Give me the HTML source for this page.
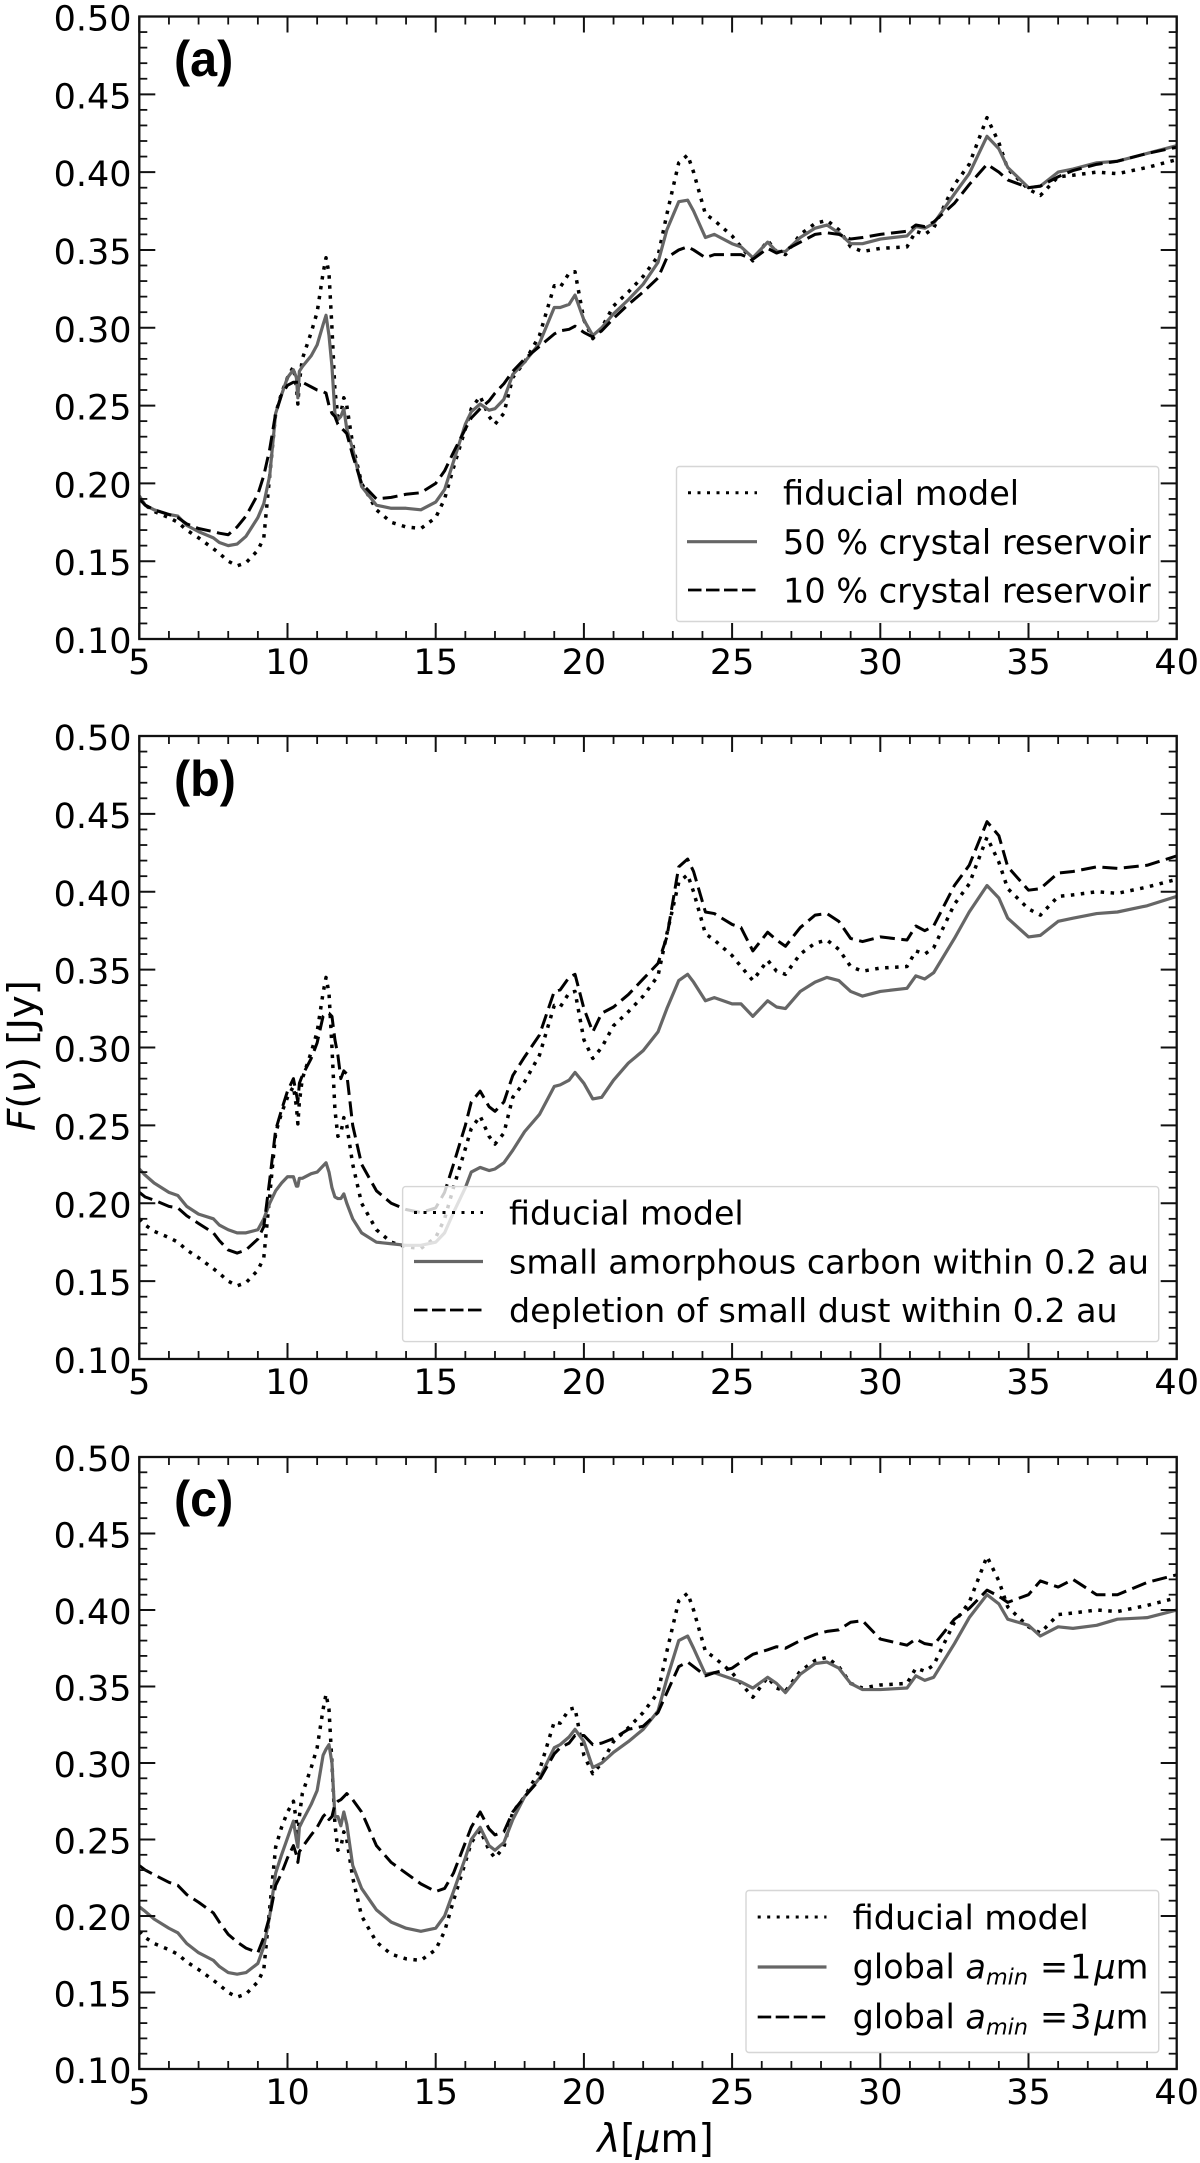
<!DOCTYPE html>
<html lang="en">
<head>
<meta charset="utf-8">
<title>Model spectra comparison</title>
<style>
  html,body{margin:0;padding:0;background:#fff;}
  svg{display:block;}
  text{font-family:"DejaVu Sans","Liberation Sans",sans-serif;fill:#000;}
  .panel-tag{font-family:"Liberation Sans",sans-serif;font-weight:bold;font-size:50px;}
  .leg-box{fill:#fff;fill-opacity:.8;stroke:#d6d6d6;stroke-width:1.4;}
  .s-dot{fill:none;stroke:#000;stroke-width:3.5;stroke-dasharray:3.5 6.5;}
  .s-sol{fill:none;stroke:#666;stroke-width:3.2;}
  .s-das{fill:none;stroke:#000;stroke-width:3;stroke-dasharray:15 6.5;}
  line.s-dot{stroke-width:3;stroke-dasharray:3 6.5;}
  line.s-das{stroke-width:2.8;stroke-dasharray:13.5 4.5;}
  .spine{fill:none;stroke:#111;stroke-width:2.3;}
</style>
</head>
<body>
<svg id="fig" xmlns="http://www.w3.org/2000/svg" width="1200" height="2163" viewBox="0 0 1200 2163">
  <defs>
    <clipPath id="clip-a"><rect x="139" y="16.5" width="1037.7" height="622.5"/></clipPath>
    <clipPath id="clip-b"><rect x="139" y="736" width="1037.7" height="623"/></clipPath>
    <clipPath id="clip-c"><rect x="139" y="1457" width="1037.7" height="612"/></clipPath>
  </defs>

  <g>
    <g id="lines-a" clip-path="url(#clip-a)"></g>
    <g id="axes-a"></g>
    <text class="panel-tag" transform="translate(174,76) scale(.97,1)">(a)</text>
    <g>
      <rect class="leg-box" x="676.5" y="466.5" width="482.2" height="155" rx="3"/>
      <line class="s-dot" x1="688" x2="757" y1="492.7" y2="492.7"/>
      <line class="s-sol" x1="687" x2="757" y1="541.7" y2="541.7"/>
      <line class="s-das" x1="688" x2="757" y1="590" y2="590"/>
      <text x="783" y="505" font-size="33.5">fiducial model</text>
      <text x="783" y="554" font-size="33.5">50 % crystal reservoir</text>
      <text x="783" y="602.5" font-size="33.5">10 % crystal reservoir</text>
    </g>
  </g>

  <g>
    <g id="lines-b" clip-path="url(#clip-b)"></g>
    <g id="axes-b"></g>
    <text class="panel-tag" transform="translate(174,796) scale(.97,1)">(b)</text>
    <text transform="translate(35,1131) rotate(-90)" font-size="38.7"><tspan font-style="italic">F</tspan>(<tspan font-style="italic">ν</tspan>) [Jy]</text>
    <g>
      <rect class="leg-box" x="402.6" y="1186.6" width="756.1" height="155" rx="3"/>
      <line class="s-dot" x1="414" x2="483" y1="1212.5" y2="1212.5"/>
      <line class="s-sol" x1="414" x2="483" y1="1261.5" y2="1261.5"/>
      <line class="s-das" x1="414" x2="483" y1="1310" y2="1310"/>
      <text x="509" y="1224.6" font-size="33.3">fiducial model</text>
      <text x="509" y="1273.6" font-size="33.3">small amorphous carbon within 0.2 au</text>
      <text x="509" y="1322" font-size="33.3">depletion of small dust within 0.2 au</text>
    </g>
  </g>

  <g>
    <g id="lines-c" clip-path="url(#clip-c)"></g>
    <g id="axes-c"></g>
    <text class="panel-tag" transform="translate(174,1516) scale(.97,1)">(c)</text>
    <g>
      <rect class="leg-box" x="746" y="1890.5" width="412.7" height="162" rx="3"/>
      <line class="s-dot" x1="757.7" x2="826.5" y1="1917" y2="1917"/>
      <line class="s-sol" x1="757.7" x2="826.5" y1="1967" y2="1967"/>
      <line class="s-das" x1="757.7" x2="826.5" y1="2017" y2="2017"/>
      <text x="852.6" y="1929.5" font-size="33.5">fiducial model</text>
      <text x="852.6" y="1978.5" font-size="33.5">global <tspan font-style="italic">a</tspan><tspan font-style="italic" font-size="22.3" dy="6">min</tspan><tspan dy="-6" dx="12">=</tspan><tspan dx="2">1</tspan><tspan font-style="italic" dx="3">μ</tspan>m</text>
      <text x="852.6" y="2028.5" font-size="33.5">global <tspan font-style="italic">a</tspan><tspan font-style="italic" font-size="22.3" dy="6">min</tspan><tspan dy="-6" dx="12">=</tspan><tspan dx="2">3</tspan><tspan font-style="italic" dx="3">μ</tspan>m</text>
    </g>
    <text x="655.5" y="2152" text-anchor="middle" font-size="39"><tspan font-style="italic">λ</tspan>[<tspan font-style="italic">μ</tspan>m]</text>
  </g>
</svg>

<script>
const wavelength = [
5,5.2,5.5,6,6.3,6.6,7,7.5,7.7,8,
8.3,8.6,9,9.2,9.4,9.6,9.8,10,10.2,10.3,
10.35,10.4,10.5,10.8,11,11.2,11.3,11.4,11.5,11.6,
11.7,11.8,11.9,12,12.2,12.5,13,13.5,14,14.5,
15,15.3,15.6,16,16.2,16.5,16.8,17,17.3,17.6,
18,18.5,19,19.2,19.5,19.7,20,20.3,20.6,21,
21.5,22,22.5,22.8,23.2,23.5,23.7,24.1,24.4,25,
25.3,25.7,26.2,26.5,26.8,27.3,27.8,28.2,28.6,29,
29.4,30,30.9,31.2,31.5,31.8,32.5,33,33.6,34,
34.3,35,35.4,36,36.5,37.3,38,39,40];

const fiducial = [
.190,.186,.182,.178,.175,.170,.165,.158,.155,.150,
.147,.149,.157,.165,.205,.245,.258,.268,.275,.262,
.251,.265,.280,.297,.310,.335,.345,.335,.300,.260,
.243,.245,.255,.250,.225,.200,.183,.175,.172,.171,
.178,.190,.210,.235,.248,.256,.243,.238,.245,.268,
.278,.295,.327,.326,.335,.336,.305,.293,.300,.314,
.323,.333,.346,.373,.406,.411,.400,.373,.369,.359,
.352,.343,.356,.349,.347,.360,.367,.369,.363,.352,
.349,.351,.352,.362,.360,.364,.392,.405,.435,.419,
.402,.389,.385,.397,.398,.400,.399,.403,.408];

const crystal50 = [
.192,.186,.183,.180,.179,.173,.169,.165,.162,.160,
.161,.166,.178,.187,.205,.245,.257,.268,.273,.268,
.255,.272,.275,.282,.289,.302,.308,.295,.275,.245,
.241,.243,.248,.235,.222,.198,.186,.184,.184,.183,
.188,.196,.214,.238,.246,.251,.247,.248,.254,.270,
.278,.290,.313,.313,.315,.321,.305,.295,.300,.309,
.318,.328,.342,.363,.381,.382,.375,.358,.360,.354,
.352,.345,.355,.349,.349,.358,.364,.366,.361,.354,
.354,.357,.359,.365,.364,.367,.386,.399,.423,.415,
.403,.390,.391,.400,.402,.406,.407,.412,.417];

const crystal10 = [
.190,.186,.183,.180,.178,.174,.171,.169,.168,.167,
.172,.179,.193,.205,.222,.245,.257,.263,.265,.265,
.265,.265,.265,.262,.260,.259,.258,.250,.245,.243,
.238,.236,.234,.232,.218,.200,.190,.191,.193,.194,
.200,.208,.220,.235,.242,.248,.253,.258,.264,.272,
.280,.288,.296,.298,.299,.301,.297,.294,.298,.306,
.315,.323,.332,.345,.350,.352,.350,.345,.347,.347,
.347,.344,.351,.348,.350,.355,.360,.361,.360,.357,
.358,.360,.362,.366,.365,.368,.380,.392,.405,.400,
.395,.390,.391,.397,.401,.405,.407,.412,.416];

const amorphousCarbon = [
.222,.218,.213,.207,.205,.198,.193,.190,.186,.183,
.181,.181,.183,.190,.200,.208,.213,.217,.217,.211,
.211,.216,.216,.219,.220,.224,.226,.220,.210,.204,
.203,.203,.206,.200,.190,.181,.175,.174,.173,.173,
.175,.181,.194,.210,.220,.223,.221,.222,.226,.234,
.246,.257,.275,.276,.279,.284,.277,.267,.268,.279,
.290,.298,.310,.325,.343,.347,.342,.330,.332,.328,
.328,.320,.330,.326,.325,.336,.342,.345,.343,.336,
.333,.336,.338,.346,.344,.348,.370,.387,.404,.396,
.383,.371,.372,.381,.383,.386,.387,.391,.397];

const dustDepletion = [
.207,.204,.202,.198,.197,.192,.187,.181,.176,.170,
.168,.170,.177,.185,.215,.247,.260,.272,.280,.270,
.265,.277,.282,.293,.303,.320,.322,.322,.320,.305,
.295,.280,.285,.283,.250,.225,.208,.200,.196,.194,
.197,.207,.225,.250,.265,.272,.262,.259,.265,.282,
.294,.308,.336,.337,.345,.347,.325,.310,.322,.326,
.334,.344,.354,.371,.416,.421,.413,.387,.386,.379,
.377,.362,.374,.369,.365,.377,.385,.386,.381,.370,
.368,.371,.369,.378,.375,.378,.404,.417,.445,.436,
.416,.401,.402,.412,.413,.416,.415,.417,.423];

const aminOne = [
.206,.203,.198,.192,.189,.182,.176,.171,.167,.163,
.162,.163,.169,.180,.200,.228,.240,.251,.262,.250,
.245,.258,.262,.273,.282,.305,.309,.312,.300,.265,
.265,.259,.268,.260,.233,.218,.204,.196,.192,.190,
.192,.200,.216,.238,.250,.258,.246,.243,.248,.263,
.278,.290,.310,.312,.317,.322,.314,.297,.300,.307,
.314,.322,.334,.355,.380,.383,.375,.358,.359,.355,
.353,.349,.356,.352,.346,.358,.365,.366,.362,.352,
.348,.348,.349,.357,.354,.356,.378,.395,.410,.404,
.394,.390,.383,.389,.388,.390,.394,.395,.400];

const aminThree = [
.233,.230,.227,.222,.220,.214,.209,.202,.196,.188,
.183,.179,.176,.186,.200,.220,.228,.238,.246,.240,
.235,.242,.245,.253,.258,.265,.267,.263,.265,.273,
.275,.276,.278,.280,.276,.268,.246,.235,.228,.221,
.216,.218,.228,.248,.258,.268,.257,.253,.255,.268,
.278,.289,.306,.310,.313,.318,.318,.312,.313,.316,
.322,.324,.333,.346,.363,.366,.363,.357,.359,.362,
.366,.371,.374,.376,.375,.380,.384,.386,.387,.392,
.393,.381,.377,.381,.378,.377,.394,.401,.413,.409,
.405,.410,.419,.415,.420,.410,.410,.418,.423];

const xTickLabels = ["5","10","15","20","25","30","35","40"];
const yTickLabels = ["0.10","0.15","0.20","0.25","0.30","0.35","0.40","0.45","0.50"];
const xMinorTicks = [6,7,8,9,11,12,13,14,16,17,18,19,21,22,23,24,26,27,28,29,31,32,33,34,36,37,38,39];
const yMinorTicks = [.11,.12,.13,.14,.16,.17,.18,.19,.21,.22,.23,.24,.26,.27,.28,.29,.31,.32,.33,.34,.36,.37,.38,.39,.41,.42,.43,.44,.46,.47,.48,.49];

const SVGNS = "http://www.w3.org/2000/svg";
const LEFT = 139.3, RIGHT = 1176.7, XMIN = 5, XMAX = 40, YMIN = 0.10, YMAX = 0.50;
function xAxis(v){ return LEFT + (v - XMIN) * (RIGHT - LEFT) / (XMAX - XMIN); }
function yAxisFor(top, bottom){
  return function(v){ return bottom - (v - YMIN) * (bottom - top) / (YMAX - YMIN); };
}
function tickLine(parent, x1, y1, x2, y2, w){
  const l = document.createElementNS(SVGNS, "line");
  l.setAttribute("x1", x1); l.setAttribute("y1", y1);
  l.setAttribute("x2", x2); l.setAttribute("y2", y2);
  l.setAttribute("stroke", "#111"); l.setAttribute("stroke-width", w);
  
  
  parent.appendChild(l);
}
function drawAxes(id, top, bottom){
  const g = document.getElementById("axes-" + id);
  const y = yAxisFor(top, bottom);
  xTickLabels.forEach(function(lab){
    const px = xAxis(Number(lab));
    tickLine(g, px, bottom, px, bottom - 16, 2);
    tickLine(g, px, top, px, top + 16, 2);
    const t = document.createElementNS(SVGNS, "text");
    t.setAttribute("x", px);
    t.setAttribute("y", bottom + 35);
    t.setAttribute("text-anchor", "middle");
    t.setAttribute("font-size", "35");
    
    
    t.textContent = lab;
    g.appendChild(t);
  });
  xMinorTicks.forEach(function(v){
    const px = xAxis(v);
    tickLine(g, px, bottom, px, bottom - 8, 1.8);
    tickLine(g, px, top, px, top + 8, 1.8);
  });
  yTickLabels.forEach(function(lab){
    const py = y(Number(lab));
    tickLine(g, LEFT, py, LEFT + 16, py, 2);
    tickLine(g, RIGHT, py, RIGHT - 16, py, 2);
    const t = document.createElementNS(SVGNS, "text");
    t.setAttribute("x", 131.5);
    t.setAttribute("y", py + 14);
    t.setAttribute("text-anchor", "end");
    t.setAttribute("font-size", "35");
    
    
    t.textContent = lab;
    g.appendChild(t);
  });
  yMinorTicks.forEach(function(v){
    const py = y(v);
    tickLine(g, LEFT, py, LEFT + 8, py, 1.8);
    tickLine(g, RIGHT, py, RIGHT - 8, py, 1.8);
  });
  const r = document.createElementNS(SVGNS, "rect");
  r.setAttribute("class", "spine");
  r.setAttribute("x", LEFT); r.setAttribute("y", top);
  r.setAttribute("width", RIGHT - LEFT); r.setAttribute("height", bottom - top);
  
  
  g.appendChild(r);
}
function drawSeries(id, top, bottom, values, cls, name){
  const g = document.getElementById("lines-" + id);
  const y = yAxisFor(top, bottom);
  const d = values.map(function(v, i){
    return (i ? "L" : "M") + xAxis(wavelength[i]).toFixed(2) + " " + y(v).toFixed(2);
  }).join("");
  const p = document.createElementNS(SVGNS, "path");
  p.setAttribute("d", d);
  p.setAttribute("class", cls);
  p.setAttribute("stroke-linejoin", "round");
  
  
  g.appendChild(p);
}
const TOP_A = 16.5, BOT_A = 639, TOP_B = 736, BOT_B = 1359, TOP_C = 1457, BOT_C = 2069;
drawSeries("a", TOP_A, BOT_A, fiducial, "s-dot", "line-fiducial-model");
drawSeries("a", TOP_A, BOT_A, crystal50, "s-sol", "line-50-percent-crystal");
drawSeries("a", TOP_A, BOT_A, crystal10, "s-das", "line-10-percent-crystal");
drawAxes("a", TOP_A, BOT_A);
drawSeries("b", TOP_B, BOT_B, fiducial, "s-dot", "line-fiducial-model");
drawSeries("b", TOP_B, BOT_B, amorphousCarbon, "s-sol", "line-amorphous-carbon");
drawSeries("b", TOP_B, BOT_B, dustDepletion, "s-das", "line-dust-depletion");
drawAxes("b", TOP_B, BOT_B);
drawSeries("c", TOP_C, BOT_C, fiducial, "s-dot", "line-fiducial-model");
drawSeries("c", TOP_C, BOT_C, aminOne, "s-sol", "line-amin-1um");
drawSeries("c", TOP_C, BOT_C, aminThree, "s-das", "line-amin-3um");
drawAxes("c", TOP_C, BOT_C);
</script>
</body>
</html>
